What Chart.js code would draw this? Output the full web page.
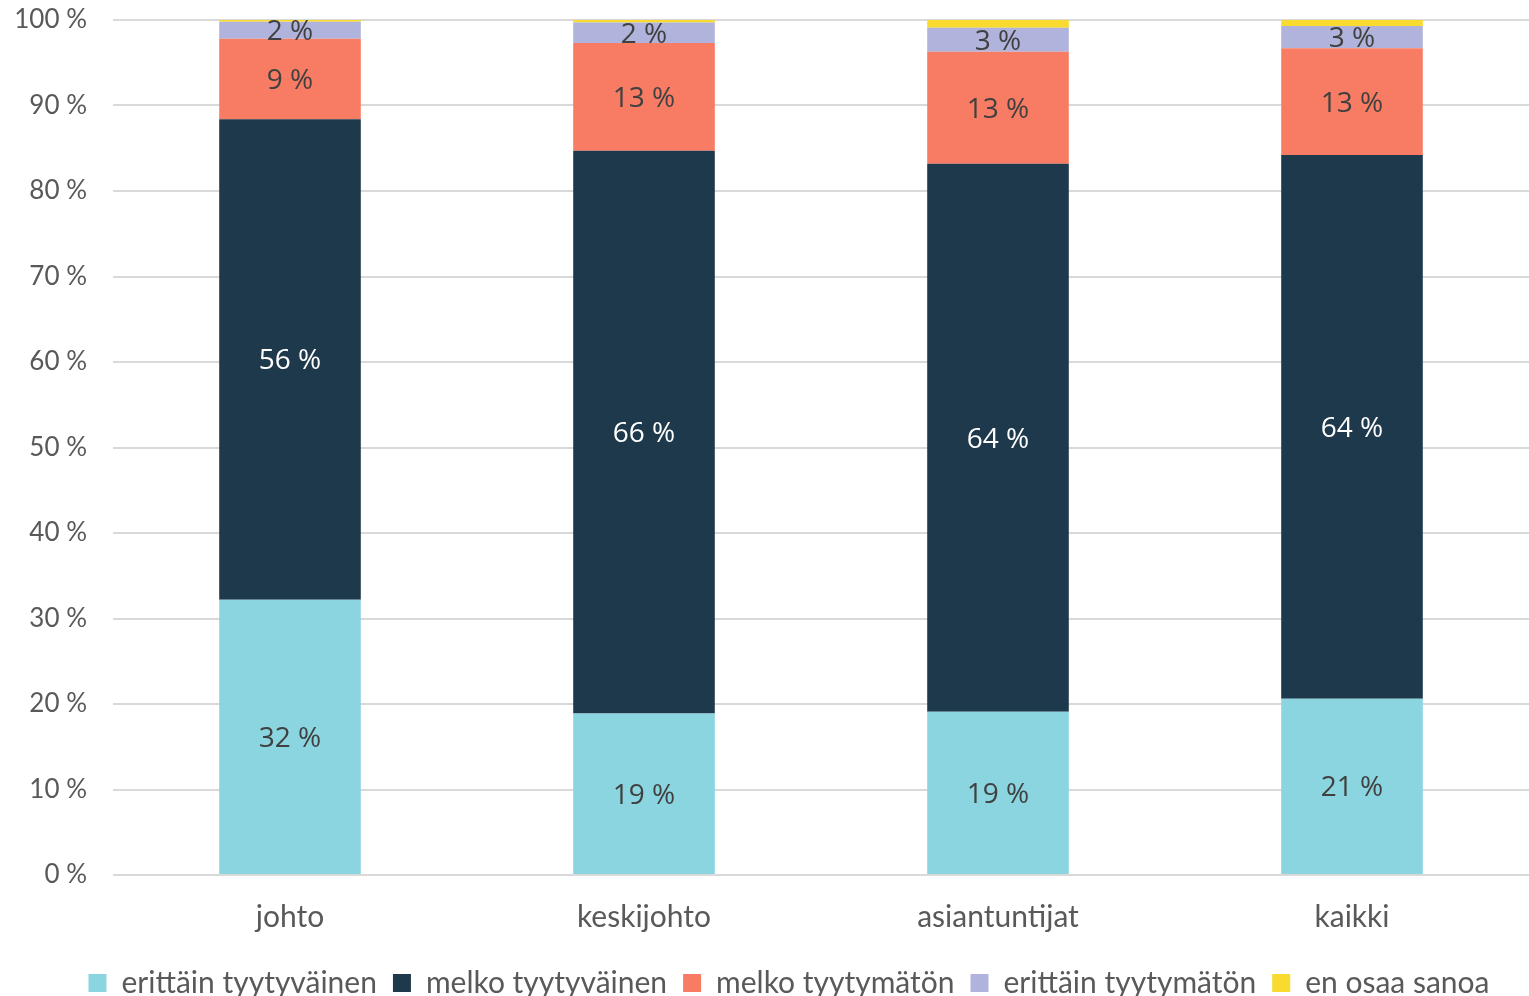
<!DOCTYPE html>
<html lang="fi">
<head>
<meta charset="utf-8">
<title>Tyytyväisyys</title>
<script src="https://cdn.jsdelivr.net/npm/chart.js@4/dist/chart.umd.min.js"></script>
<style>
html,body{margin:0;padding:0;background:#fff}
#wrap{width:1529px;height:996px}
</style>
</head>
<body>
<div id="wrap"><canvas id="c" width="1529" height="996"></canvas></div>
<script>
const $=id=>document.getElementById(id);

// arvot luettu kuvasta (%)
const ryhmat=["johto","keskijohto","asiantuntijat","kaikki"];
const sarjat=["erittäin tyytyväinen","melko tyytyväinen","melko tyytymätön","erittäin tyytymätön","en osaa sanoa"];
const erittainTyyt=[32.2,18.9,19.1,20.6];
const melkoTyyt=[56.2,65.8,64.1,63.6];
const melkoTyytym=[9.4,12.6,13.1,12.5];
const erittainTyytym=[2.0,2.4,2.8,2.6];
const eiOsaa=[0.2,0.3,0.9,0.7];
const yTicks=[0,10,20,30,40,50,60,70,80,90,100];

const VARIT=["#8AD5E0","#1F394C","#F87C63","#B0B3DB","#F9DA2E"];
const arvot=[erittainTyyt,melkoTyyt,melkoTyytym,erittainTyytym,eiOsaa];
const HARMAA="#595959";

const tunnisteet={
  id:"tunnisteet",
  afterLayout(ch){ // selite hieman oikealle kuten alkuperäisessä
    if(ch.legend){ch.legend.left+=21;ch.legend.right+=21;}
  },
  afterDatasetsDraw(ch){
    const ctx=ch.ctx;
    ctx.save();
    ctx.font="28px 'Open Sans'";
    ctx.textAlign="center";ctx.textBaseline="middle";
    ch.data.datasets.forEach((ds,i)=>{
      if(i===4)return;
      const meta=ch.getDatasetMeta(i);
      meta.data.forEach((el,j)=>{
        const p=el.getProps(["x","y","base"],true);
        ctx.fillStyle=i===1?"#FFFFFF":"#404040";
        ctx.fillText(Math.round(ds.data[j])+" %",p.x,(p.y+p.base)/2+2);
      });
    });
    ctx.restore();
  }
};

new Chart($("c"),{
  type:"bar",
  data:{labels:ryhmat,datasets:sarjat.map((s,i)=>({
    label:s,data:arvot[i],backgroundColor:VARIT[i],borderWidth:0,
    barPercentage:1,categoryPercentage:0.4}))},
  options:{
    responsive:false,animation:false,devicePixelRatio:1,
    layout:{padding:{top:20,right:-7,left:0,bottom:-12}},
    plugins:{
      tooltip:{enabled:false},
      legend:{position:"bottom",
        labels:{boxWidth:18,boxHeight:18,padding:16,color:HARMAA,font:{family:"Lato",size:30}}}
    },
    scales:{
      x:{stacked:true,grid:{display:false,drawTicks:false},border:{display:false},
        ticks:{color:HARMAA,padding:24,font:{family:"Lato",size:30}},
        afterFit:a=>{a.height=77;a.paddingLeft=0;a.paddingRight=0;}},
      y:{stacked:true,min:0,max:100,border:{display:false},
        grid:{color:"#D9D9D9",lineWidth:2,drawTicks:false},
        afterBuildTicks:a=>{a.ticks=yTicks.map(v=>({value:v}));},
        ticks:{color:HARMAA,padding:26,font:{family:"Lato",size:26},callback:v=>v+" %"},
        afterFit:a=>{a.width=113;a.paddingTop=0;a.paddingBottom=0;}}
    }
  },
  plugins:[tunnisteet]
});
</script>
</body>
</html>
